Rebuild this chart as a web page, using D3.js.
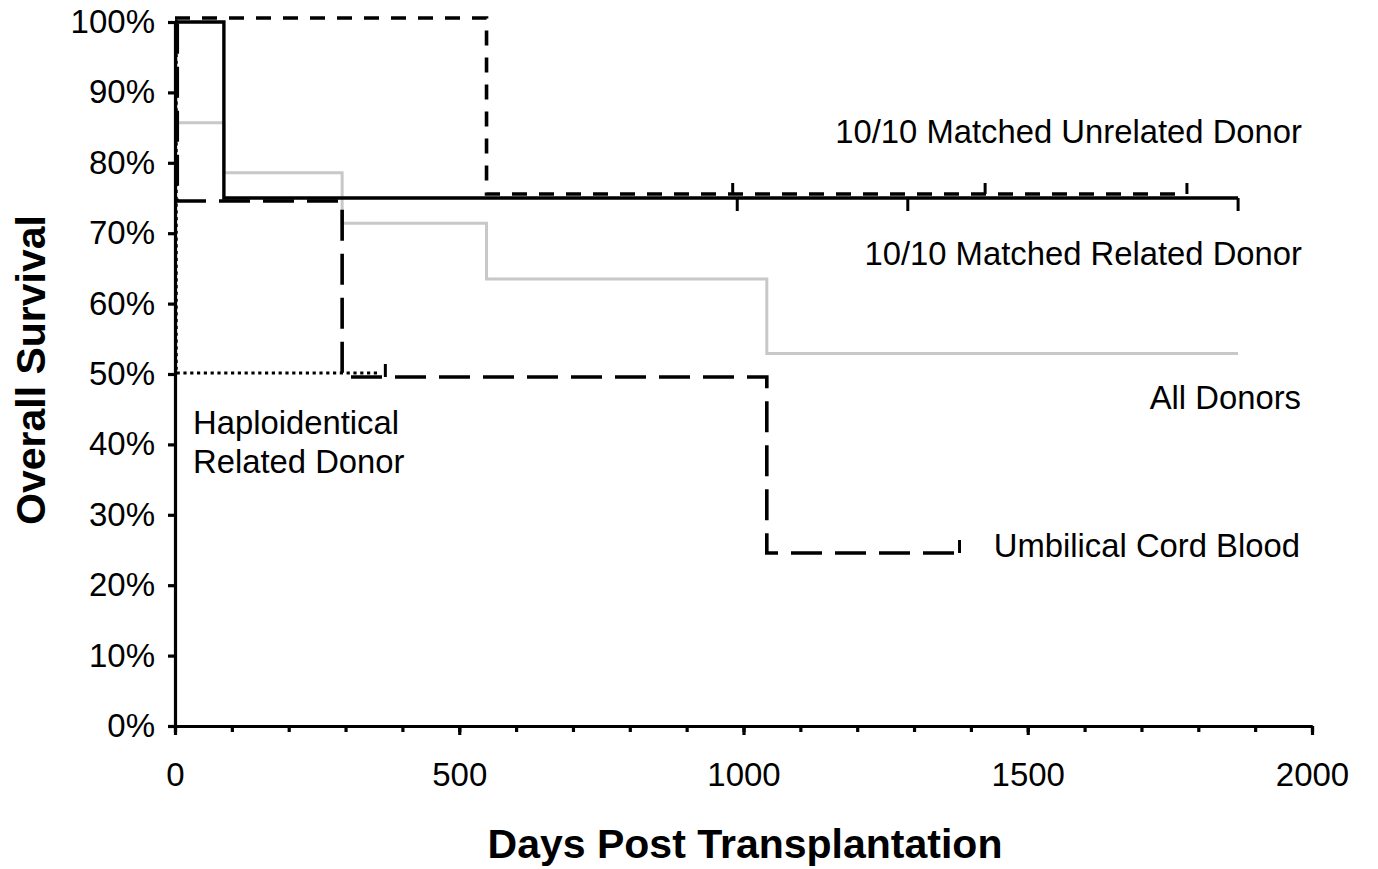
<!DOCTYPE html>
<html>
<head>
<meta charset="utf-8">
<script src="https://cdn.jsdelivr.net/npm/d3@7"></script>
<style>
  body { margin: 0; background: #fff; }
  text { font-family: "Liberation Sans", Arial, sans-serif; fill: #000; }
</style>
</head>
<body>
<div class="container-viewer"></div>
<script>
//* DATOS *//
// curvas de supervivencia (dias, % supervivencia) - escalonadas
const allDays = [0, 2, 86, 294, 548, 1041, 1870];
const allSurv = [100, 85.7, 78.6, 71.4, 63.5, 52.9, 52.9];

const relatedDays = [0, 86, 1870];
const relatedSurv = [100, 75, 75];
const relatedCensor = [989, 1289, 1870];

const unrelatedDays = [0, 548, 1780];
const unrelatedSurv = [100, 75, 75];
const unrelatedCensor = [981, 1425, 1780];

const cordDays = [0, 4, 294, 1041, 1380];
const cordSurv = [100, 75, 50, 25, 25];
const cordCensor = [370, 1380];

const haploDays = [0, 2, 358];
const haploSurv = [100, 50, 50];

const yTicks = [0, 10, 20, 30, 40, 50, 60, 70, 80, 90, 100];
const xMajor = [0, 500, 1000, 1500, 2000];
const xMinor = d3.range(0, 2001, 100);

//* DIBUJO *//
const width = 1378, height = 869;
const svg = d3.select('.container-viewer').append('svg')
  .attr('width', width).attr('height', height);

const x = d3.scaleLinear().domain([0, 2000]).range([175, 1312]);
const y = d3.scaleLinear().domain([0, 100]).range([726, 22]);

const line = d3.line()
  .x(d => x(d[0])).y(d => y(d[1]))
  .curve(d3.curveStepAfter);

const series = [
  { days: allDays, surv: allSurv, censor: [], color: '#c8c8c8', dash: null, w: 3, dy: 0, tick: 0 },
  { days: haploDays, surv: haploSurv, censor: [], color: '#000', dash: '3.2,3.6', w: 3.2, dy: -1, tick: 0 },
  { days: cordDays, surv: cordSurv, censor: cordCensor, color: '#000', dash: '31,13', w: 3.6, dy: 3, tick: -13 },
  { days: unrelatedDays, surv: unrelatedSurv, censor: unrelatedCensor, color: '#000', dash: '15,12', w: 3.6, dy: -4, tick: -11 },
  { days: relatedDays, surv: relatedSurv, censor: relatedCensor, color: '#000', dash: null, w: 3.4, dy: 0, tick: 13 },
];

series.forEach(s => {
  const g = svg.append('g').attr('transform', `translate(0,${s.dy})`);
  const pts = s.days.map((d, i) => [d, s.surv[i]]);
  g.append('path')
    .attr('d', line(pts))
    .attr('fill', 'none')
    .attr('stroke', s.color)
    .attr('stroke-width', s.w)
    .attr('stroke-dasharray', s.dash);
  // marcas de censura
  const survAt = t => {
    let v = s.surv[0];
    s.days.forEach((d, i) => { if (d <= t) v = s.surv[i]; });
    return v;
  };
  g.selectAll('line.censor').data(s.censor).enter().append('line')
    .attr('class', 'censor')
    .attr('x1', d => x(d)).attr('x2', d => x(d))
    .attr('y1', d => y(survAt(d)))
    .attr('y2', d => y(survAt(d)) + s.tick)
    .attr('stroke', '#000').attr('stroke-width', 3);
});

// Ejes
const yAxis = svg.append('g').attr('transform', `translate(${x(0)},0)`)
  .call(d3.axisLeft(y).tickValues(yTicks).tickFormat(d => d + '%')
    .tickSize(7).tickSizeOuter(0).tickPadding(13));
yAxis.selectAll('text').style('font-size', '33px');

const xMinorAxis = svg.append('g').attr('transform', `translate(0,${y(0)})`)
  .call(d3.axisBottom(x).tickValues(xMinor).tickFormat('')
    .tickSize(6).tickSizeOuter(0));
const xAxis = svg.append('g').attr('transform', `translate(0,${y(0)})`)
  .call(d3.axisBottom(x).tickValues(xMajor).tickFormat(d3.format('d'))
    .tickSize(9).tickSizeOuter(0).tickPadding(28));
xAxis.selectAll('text').style('font-size', '33px');

svg.selectAll('.domain, .tick line').attr('stroke', '#000').attr('stroke-width', 3.2);

// Titulos
svg.append('text')
  .attr('x', 745).attr('y', 858)
  .attr('text-anchor', 'middle')
  .style('font-size', '41px').style('font-weight', 'bold')
  .text('Days Post Transplantation');

svg.append('text')
  .attr('transform', 'translate(45,370) rotate(-90)')
  .attr('text-anchor', 'middle')
  .style('font-size', '41px').style('font-weight', 'bold')
  .text('Overall Survival');

// Etiquetas de las curvas
const labels = [
  { t: '10/10 Matched Unrelated Donor', x: 1302, y: 143, a: 'end' },
  { t: '10/10 Matched Related Donor', x: 1302, y: 265, a: 'end' },
  { t: 'All Donors', x: 1301, y: 409, a: 'end' },
  { t: 'Umbilical Cord Blood', x: 1300, y: 557, a: 'end' },
  { t: 'Haploidentical', x: 193, y: 434, a: 'start' },
  { t: 'Related Donor', x: 193, y: 473, a: 'start' },
];
svg.selectAll('text.lab').data(labels).enter().append('text')
  .attr('class', 'lab')
  .attr('x', d => d.x).attr('y', d => d.y)
  .attr('text-anchor', d => d.a)
  .style('font-size', '32.8px')
  .text(d => d.t);
</script>
</body>
</html>
